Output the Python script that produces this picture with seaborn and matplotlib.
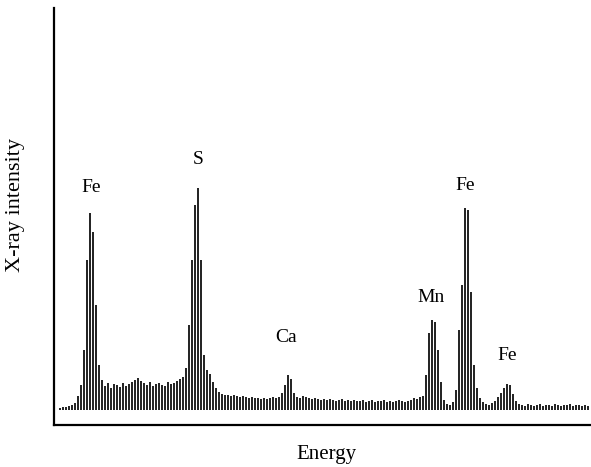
import numpy as np
import pandas as pd
import matplotlib
matplotlib.use("Agg")
import matplotlib.pyplot as plt
import seaborn as sns

# X-ray intensity per energy channel (arbitrary units)
intensity = [
    2, 3, 3, 4, 5, 7, 14, 25, 60, 150, 197, 178, 105, 45, 30,
    24, 27, 22, 26, 25, 23, 27, 24, 26, 28, 30, 32, 29, 27, 25, 28, 24, 26, 27, 25,
    24, 28, 26, 27, 29, 31,
    33, 42, 85, 150, 205, 222, 150, 55, 40, 36, 28, 22, 18,
    16, 15, 15, 14, 15, 14, 13, 14, 13, 12, 13, 12, 12, 11, 12, 11, 12, 13, 12,
    13, 17, 25, 35, 31, 17, 13,
    12, 14, 13, 12, 11, 12, 11, 10, 11, 10, 11, 10, 9, 10, 11, 9, 10, 9, 10, 9,
    9, 10, 8, 9, 10, 8, 9, 9, 10, 8, 9, 8, 9, 10, 9, 8, 9, 10, 12, 11, 13,
    14, 35, 77, 90, 88, 60, 28, 10, 6, 5, 8, 20, 80, 125, 202, 200, 118, 45, 22,
    12, 8, 6, 5, 7, 9, 13, 17, 22, 26, 25, 16, 9, 6,
    5, 4, 6, 5, 4, 5, 6, 4, 5, 5, 4, 6, 5, 4, 5, 5, 6, 4, 5, 5, 4, 5, 4,
]
channel = list(range(len(intensity)))

# peak labels: element, channel, label height
peak_labels = ["Fe", "S", "Ca", "Mn", "Fe", "Fe"]
peak_channels = [10.3, 46, 75.3, 123.7, 135, 149]
peak_label_y = [223, 250, 72, 113, 225, 54]

df = pd.DataFrame({"channel": channel, "intensity": intensity})

sns.set_theme(style="white")
plt.rcParams["font.family"] = ["Liberation Serif", "DejaVu Serif"]

fig = plt.figure(figsize=(5.91, 4.67), dpi=100)
ax = fig.add_axes([54 / 591, 42 / 467, (591 - 54) / 591, 417 / 467])

sns.barplot(data=df, x="channel", y="intensity", native_scale=True,
            color="#262626", width=0.72, linewidth=0, saturation=1, ax=ax)

ax.set_xlim(-2, 177)
ax.set_ylim(-15, 402)
ax.set_xticks([])
ax.set_yticks([])
ax.set_xlabel("")
ax.set_ylabel("")
for side in ["top", "right"]:
    ax.spines[side].set_visible(False)
for side in ["left", "bottom"]:
    ax.spines[side].set_color("black")
    ax.spines[side].set_linewidth(1.6)

for lab, cx, ly in zip(peak_labels, peak_channels, peak_label_y):
    ax.text(cx, ly, lab, ha="center", va="center", fontsize=14, color="black")

fig.text(16 / 591, 1 - 205 / 467, "X-ray intensity", rotation=90,
         ha="center", va="center", fontsize=16, color="black")
fig.text(326 / 591, 1 - 454 / 467, "Energy", ha="center", va="center",
         fontsize=15, color="black")

fig.savefig("out.png", dpi=100)
